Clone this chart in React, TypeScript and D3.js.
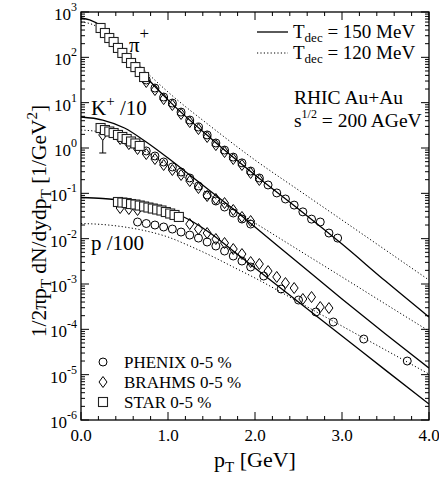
import React from "react";
import * as d3 from "d3";

const W = 439;
const H = 481;
const FRAME = { left: 81, right: 429, top: 12, bottom: 420 };
const FONT = "'Liberation Serif', 'Times New Roman', serif";

// ---- pi+ ----
const pionStarPt = [0.225, 0.275, 0.325, 0.375, 0.425, 0.475, 0.525, 0.575, 0.625, 0.675, 0.725];
const pionStar = [444, 344, 267, 218, 161, 125, 96.7, 75, 61, 47.5, 36.8];
const pionPhenixPt = [0.75, 0.85, 0.95, 1.05, 1.15, 1.25, 1.35, 1.45, 1.55, 1.65, 1.75, 1.85, 1.95, 2.05, 2.15, 2.25, 2.35, 2.45, 2.55, 2.65, 2.75, 2.85, 2.95];
const pionPhenix = [31.6, 21.0, 13.3, 9.8, 6.2, 4.14, 2.9, 1.94, 1.29, 0.9, 0.63, 0.47, 0.31, 0.218, 0.153, 0.102, 0.075, 0.055, 0.039, 0.027, 0.0233, 0.0133, 0.0103];
const pionBrahmsPt = [0.75, 0.85, 0.95, 1.05, 1.15, 1.25, 1.35, 1.45, 1.55, 1.65, 1.75, 1.85, 1.95, 2.05];
const pionBrahms = [28.6, 19.0, 12.0, 8.87, 5.62, 3.74, 2.62, 1.75, 1.16, 0.816, 0.571, 0.422, 0.281, 0.197];

// ---- K+ / 10 ----
const kaonStarPt = [0.225, 0.275, 0.325, 0.375, 0.425, 0.475, 0.525, 0.575, 0.625, 0.675];
const kaonStar = [2.76, 2.49, 2.31, 2.14, 1.94, 1.75, 1.58, 1.39, 1.26, 1.11];
const kaonPhenixPt = [0.55, 0.65, 0.75, 0.85, 0.95, 1.05, 1.15, 1.25, 1.35, 1.45, 1.55, 1.65, 1.75, 1.85, 1.95];
const kaonPhenix = [1.43, 1.11, 0.86, 0.666, 0.491, 0.381, 0.295, 0.218, 0.145, 0.0918, 0.0677, 0.0499, 0.0368, 0.0271, 0.021];
const kaonBrahmsPt = [0.25, 0.45, 0.55, 0.65, 0.75, 0.85, 0.95, 1.05, 1.15, 1.25, 1.35, 1.45, 1.55, 1.65, 1.75, 1.85, 1.95];
const kaonBrahms = [1.94, 1.58, 1.22, 0.951, 0.736, 0.571, 0.422, 0.327, 0.254, 0.187, 0.131, 0.0873, 0.075, 0.0611, 0.0429, 0.0301, 0.0245];
const kaonBrahmsErrPt = [0.25];
const kaonBrahmsErrLow = [0.776];

// ---- p / 100 ----
const protonStarPt = [0.425, 0.475, 0.525, 0.575, 0.625, 0.675, 0.725, 0.775, 0.825, 0.875, 0.925, 0.975, 1.025, 1.075, 1.125];
const protonStar = [0.0644, 0.0627, 0.0611, 0.0581, 0.0566, 0.0538, 0.0512, 0.0486, 0.0462, 0.044, 0.0418, 0.0387, 0.0359, 0.0333, 0.0301];
const protonPhenixPt = [0.65, 0.75, 0.85, 0.95, 1.05, 1.15, 1.25, 1.35, 1.45, 1.55, 1.65, 1.75, 1.85, 1.95, 2.1, 2.3, 2.5, 2.7, 2.9, 3.25, 3.75];
const protonPhenix = [0.0233, 0.0216, 0.02, 0.0181, 0.0163, 0.014, 0.012, 0.0103, 0.00844, 0.00689, 0.00534, 0.00414, 0.00321, 0.00237, 0.0015, 7.74e-4, 4.43e-4, 2.41e-4, 1.45e-4, 6.11e-5, 2.0e-5];
const protonBrahmsPt = [0.45, 0.55, 0.65, 1.25, 1.35, 1.45, 1.55, 1.65, 1.75, 1.85, 1.95, 2.05, 2.15, 2.25, 2.35, 2.45, 2.55, 2.65, 2.75, 2.85];
const protonBrahms = [0.0474, 0.0451, 0.0429, 0.021, 0.0163, 0.0133, 0.00982, 0.00802, 0.00591, 0.00458, 0.00305, 0.00276, 0.00193, 0.00143, 0.00105, 8.15e-4, 4.67e-4, 5.16e-4, 3.1e-4, 2.95e-4];

// ---- hydrodynamic spectra, T_dec = 150 MeV (solid) and 120 MeV (dotted) ----
const pionCurvePt = [0, 0.1, 0.25, 0.5, 0.75, 1, 1.5, 2, 2.5, 3, 3.5, 4];
const pion150 = [738, 667, 467, 138, 36.8, 11.5, 1.58, 0.254, 0.045, 0.0076, 0.00116, 1.87e-4];
const pion120 = [601, 557, 401, 145, 47.5, 17.2, 2.9, 0.543, 0.118, 0.0258, 0.00562, 0.00122];
const hadronCurvePt = [0, 0.25, 0.5, 0.75, 1, 1.25, 1.5, 1.75, 2, 2.5, 3, 3.5, 4];
const kaon150 = [4.83, 4.14, 2.76, 1.355, 0.601, 0.254, 0.107, 0.0451, 0.0181, 0.0029, 4.67e-4, 7.88e-5, 1.4e-5];
const kaon120 = [2.49, 2.2, 1.5, 0.816, 0.401, 0.187, 0.0873, 0.0429, 0.0221, 0.00562, 0.00143, 3.61e-4, 9.18e-5];
const proton150 = [0.0809, 0.0769, 0.0695, 0.0581, 0.0429, 0.0258, 0.01265, 0.00534, 0.00225, 4.01e-4, 7.12e-5, 1.26e-5, 2.25e-6];
const proton120 = [0.0216, 0.0205, 0.0181, 0.01476, 0.01087, 0.00689, 0.00414, 0.00237, 0.001355, 4.01e-4, 1.18e-4, 3.5e-5, 1.03e-5];

const xTicks = [0, 1, 2, 3, 4];
const xTickLabels = ["0.0", "1.0", "2.0", "3.0", "4.0"];
const yExponents = [3, 2, 1, 0, -1, -2, -3, -4, -5, -6];

const x = d3.scaleLinear().domain([0, 4]).range([FRAME.left, FRAME.right]);
const y = d3.scaleLog().domain([1e-6, 1e3]).range([FRAME.bottom, FRAME.top]);

const line = d3
  .line<[number, number]>()
  .x((d) => x(d[0]))
  .y((d) => y(d[1]))
  .curve(d3.curveMonotoneX);

const zip = (pt: number[], v: number[]) => pt.map((p, i) => [p, v[i]] as [number, number]);

const SOLID = { stroke: "#000", strokeWidth: 1.3, fill: "none" };
const DOTTED = { stroke: "#000", strokeWidth: 1, fill: "none", strokeDasharray: "1.2,2.2" };

function CircleMark({ cx, cy }: { cx: number; cy: number }) {
  return <circle cx={cx} cy={cy} r={4} fill="none" stroke="#000" strokeWidth={1} />;
}
function DiamondMark({ cx, cy }: { cx: number; cy: number }) {
  const d = `M${cx},${cy - 5.5}L${cx + 4},${cy}L${cx},${cy + 5.5}L${cx - 4},${cy}Z`;
  return <path d={d} fill="none" stroke="#000" strokeWidth={1} />;
}
function SquareMark({ cx, cy }: { cx: number; cy: number }) {
  return <rect x={cx - 4.5} y={cy - 4.5} width={9} height={9} fill="#fff" stroke="#222" strokeWidth={1.1} />;
}

function Marks({ pt, v, Mark }: { pt: number[]; v: number[]; Mark: any }) {
  return (
    <g>
      {pt.map((p, i) => (
        <Mark key={i} cx={x(p)} cy={y(v[i])} />
      ))}
    </g>
  );
}

export default function App() {
  const xMinor = d3.range(0, 4.0001, 0.2).filter((v) => Math.abs(v - Math.round(v)) > 1e-6);
  const yMinor: number[] = [];
  for (let e = -6; e < 3; e++) for (let k = 2; k <= 9; k++) yMinor.push(k * Math.pow(10, e));

  const curves = [
    { pt: pionCurvePt, v: pion150, s: SOLID },
    { pt: pionCurvePt, v: pion120, s: DOTTED },
    { pt: hadronCurvePt, v: kaon150, s: SOLID },
    { pt: hadronCurvePt, v: kaon120, s: DOTTED },
    { pt: hadronCurvePt, v: proton150, s: SOLID },
    { pt: hadronCurvePt, v: proton120, s: DOTTED },
  ];

  return (
    <svg
      width={W}
      height={H}
      viewBox={`0 0 ${W} ${H}`}
      style={{ position: "absolute", left: 0, top: 0, background: "#fff" }}
      fontFamily={FONT}
    >
      <defs>
        <clipPath id="plotArea">
          <rect x={FRAME.left} y={FRAME.top} width={FRAME.right - FRAME.left} height={FRAME.bottom - FRAME.top} />
        </clipPath>
      </defs>

      <g clipPath="url(#plotArea)">
        {curves.map((c, i) => (
          <path key={i} d={line(zip(c.pt, c.v)) || ""} {...c.s} />
        ))}

        {/* BRAHMS error bar */}
        {kaonBrahmsErrPt.map((p, i) => (
          <g key={i} stroke="#000" strokeWidth={1}>
            <line x1={x(p)} x2={x(p)} y1={y(kaonBrahms[0]) + 5.5} y2={y(kaonBrahmsErrLow[i])} />
            <line x1={x(p) - 3.5} x2={x(p) + 3.5} y1={y(kaonBrahmsErrLow[i])} y2={y(kaonBrahmsErrLow[i])} />
          </g>
        ))}

        <Marks pt={pionBrahmsPt} v={pionBrahms} Mark={DiamondMark} />
        <Marks pt={pionPhenixPt} v={pionPhenix} Mark={CircleMark} />
        <Marks pt={pionStarPt} v={pionStar} Mark={SquareMark} />

        <Marks pt={kaonBrahmsPt} v={kaonBrahms} Mark={DiamondMark} />
        <Marks pt={kaonPhenixPt} v={kaonPhenix} Mark={CircleMark} />
        <Marks pt={kaonStarPt} v={kaonStar} Mark={SquareMark} />

        <Marks pt={protonBrahmsPt} v={protonBrahms} Mark={DiamondMark} />
        <Marks pt={protonPhenixPt} v={protonPhenix} Mark={CircleMark} />
        <Marks pt={protonStarPt} v={protonStar} Mark={SquareMark} />
      </g>

      {/* frame and ticks */}
      <rect
        x={FRAME.left}
        y={FRAME.top}
        width={FRAME.right - FRAME.left}
        height={FRAME.bottom - FRAME.top}
        fill="none"
        stroke="#000"
        strokeWidth={1.3}
      />
      <g stroke="#000" strokeWidth={1}>
        {xTicks.map((t) => (
          <g key={"xM" + t}>
            <line x1={x(t)} x2={x(t)} y1={FRAME.bottom} y2={FRAME.bottom - 8} />
            <line x1={x(t)} x2={x(t)} y1={FRAME.top} y2={FRAME.top + 8} />
          </g>
        ))}
        {xMinor.map((t) => (
          <g key={"xm" + t}>
            <line x1={x(t)} x2={x(t)} y1={FRAME.bottom} y2={FRAME.bottom - 4} />
            <line x1={x(t)} x2={x(t)} y1={FRAME.top} y2={FRAME.top + 4} />
          </g>
        ))}
        {yExponents.map((e) => (
          <g key={"yM" + e}>
            <line x1={FRAME.left} x2={FRAME.left + 8} y1={y(Math.pow(10, e))} y2={y(Math.pow(10, e))} />
            <line x1={FRAME.right} x2={FRAME.right - 8} y1={y(Math.pow(10, e))} y2={y(Math.pow(10, e))} />
          </g>
        ))}
        {yMinor.map((v, i) => (
          <g key={"ym" + i}>
            <line x1={FRAME.left} x2={FRAME.left + 4} y1={y(v)} y2={y(v)} />
            <line x1={FRAME.right} x2={FRAME.right - 4} y1={y(v)} y2={y(v)} />
          </g>
        ))}
      </g>

      {/* tick labels */}
      <g fontSize={17} fill="#000">
        {xTicks.map((t, i) => (
          <text key={t} x={x(t)} y={FRAME.bottom + 21} textAnchor="middle">
            {xTickLabels[i]}
          </text>
        ))}
        {yExponents.map((e) => (
          <text key={e} x={77} y={y(Math.pow(10, e)) + 8} textAnchor="end">
            10
            <tspan fontSize={12} dy={-9}>
              {String(e)}
            </tspan>
          </text>
        ))}
      </g>

      {/* axis titles */}
      <text x={255} y={467} textAnchor="middle" fontSize={22}>
        p<tspan fontSize={15} dy={5}>T</tspan>
        <tspan dy={-5}> [GeV]</tspan>
      </text>
      <text transform="translate(46,221) rotate(-90)" textAnchor="middle" fontSize={21.5}>
        1/2πp<tspan fontSize={15} dy={5}>T</tspan>
        <tspan dy={-5}> dN/dydp</tspan>
        <tspan fontSize={15} dy={5}>T</tspan>
        <tspan dy={-5}> [1/GeV</tspan>
        <tspan fontSize={15} dy={-9}>2</tspan>
        <tspan dy={9}>]</tspan>
      </text>

      {/* particle labels */}
      <text x={129} y={52} fontSize={21}>
        π<tspan fontSize={17} dy={-13}>+</tspan>
      </text>
      <text x={91} y={115} fontSize={21}>
        K<tspan fontSize={15} dy={-9}>+</tspan>
        <tspan dy={9}> /10</tspan>
      </text>
      <text x={91} y={250} fontSize={21}>
        p /100
      </text>

      {/* model legend */}
      <line x1={257} x2={288} y1={32} y2={32} {...SOLID} />
      <line x1={257} x2={288} y1={53} y2={53} {...DOTTED} />
      <text x={293} y={38} fontSize={19}>
        T<tspan fontSize={13} dy={4}>dec</tspan>
        <tspan dy={-4}> = 150 MeV</tspan>
      </text>
      <text x={293} y={59} fontSize={19}>
        T<tspan fontSize={13} dy={4}>dec</tspan>
        <tspan dy={-4}> = 120 MeV</tspan>
      </text>
      <text x={294} y={104} fontSize={19.5}>
        RHIC Au+Au
      </text>
      <text x={294} y={127} fontSize={19.5}>
        s<tspan fontSize={12} dy={-9}>1/2</tspan>
        <tspan dy={9}> = 200 AGeV</tspan>
      </text>

      {/* experiment legend */}
      <CircleMark cx={103} cy={362} />
      <DiamondMark cx={103} cy={382} />
      <SquareMark cx={103} cy={402} />
      <g fontSize={17}>
        <text x={124} y={368}>PHENIX 0-5 %</text>
        <text x={124} y={388}>BRAHMS 0-5 %</text>
        <text x={124} y={408}>STAR 0-5 %</text>
      </g>
    </svg>
  );
}
